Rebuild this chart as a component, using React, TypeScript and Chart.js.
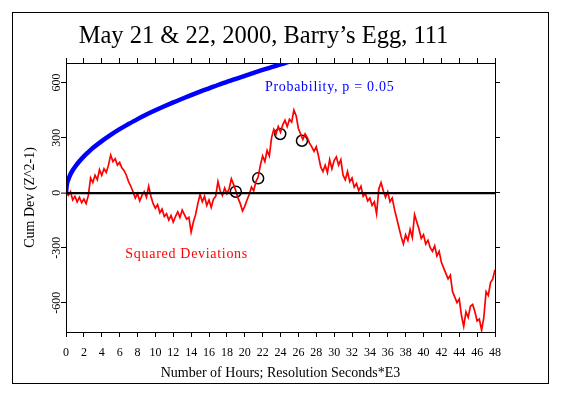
import React, { useEffect, useRef } from "react";
import { Chart, registerables } from "chart.js";

Chart.register(...registerables);

const TITLE = "May 21 & 22, 2000, Barry’s Egg, 111";
const X_TITLE = "Number of Hours; Resolution Seconds*E3";
const Y_TITLE = "Cum Dev (Z^2-1)";
const PROB_LABEL = "Probability, p = 0.05";
const DEV_LABEL = "Squared Deviations";

const X_TICKS = [0, 2, 4, 6, 8, 10, 12, 14, 16, 18, 20, 22, 24, 26, 28, 30, 32, 34, 36, 38, 40, 42, 44, 46, 48];
const Y_TICKS = [-600, -300, 0, 300, 600];
const X_MIN = 0;
const X_MAX = 48;
const Y_MIN = -760;
const Y_MAX = 707;

// cumulative deviation, one value every quarter hour (0 .. 48 h)
const SAMPLE_STEP_HOURS = 0.25;
const cumDev = [
  0, -15, 5, -40, -20, -50, -25, -55, -35, -60, -15, 80,
  55, 95, 70, 125, 95, 130, 110, 150, 205, 170, 185, 150,
  165, 135, 120, 95, 60, 35, 5, -30, -5, -45, -15, 5,
  -25, 35, -20, -60, -85, -65, -110, -90, -130, -115, -150, -125,
  -160, -130, -105, -135, -95, -120, -145, -135, -215, -160, -120, -60,
  -10, -50, -20, -70, -40, -80, -35, -20, 60, 10, -15, 25,
  -5, 20, 75, 45, 10, -30, -60, -100, -75, -40, -10, 30,
  10, 60, 85, 150, 200, 170, 230, 200, 300, 345, 320, 360,
  330, 370, 395, 360, 400, 385, 450, 420, 350, 320, 290, 320,
  300, 270, 250, 225, 250, 200, 140, 115, 150, 110, 180, 130,
  175, 195, 150, 180, 95, 70, 115, 60, 80, 30, 50, 10,
  35, -20, -5, -45, -30, -70, -50, -115, 20, 55, 10, -25,
  5, -50, -30, -90, -140, -190, -240, -280, -230, -260, -200, -245,
  -120, -160, -200, -250, -230, -280, -260, -300, -320, -290, -345, -320,
  -380, -410, -440, -470, -450, -540, -570, -600, -580, -670, -730, -650,
  -680, -620, -610, -650, -700, -690, -750, -680, -540, -560, -490, -470,
  -420,
];

// p = 0.05 envelope
const probHours = [0, 0.1, 0.25, 0.5, 0.75, 1, 1.5, 2, 2.5, 3, 4, 5, 6, 7, 8, 9, 10, 11, 12, 13, 14, 15, 16, 17, 18, 19, 20, 21, 22, 23, 24, 25, 26];
const probValues = [0, 45, 70, 100, 122, 140, 171, 198, 221, 243, 281, 315, 346, 374, 401, 426, 449, 471, 492, 512, 532, 551, 569, 587, 604, 621, 637, 653, 669, 684, 699, 714, 728];

// event markers (circles)
const eventHours = [19.0, 21.5, 23.97, 26.4];
const eventValues = [5, 78, 320, 283];

const SERIF = "'Liberation Serif', 'DejaVu Serif', serif";

const decorPlugin = {
  id: "decor",
  beforeDraw(chart: any) {
    const ctx = chart.ctx;
    ctx.save();
    ctx.fillStyle = "#ffffff";
    ctx.fillRect(0, 0, chart.width, chart.height);
    ctx.restore();
  },
  afterDraw(chart: any) {
    const ctx = chart.ctx;
    const x = chart.scales.x;
    const y = chart.scales.y;
    ctx.save();
    ctx.strokeStyle = "#000";
    ctx.lineWidth = 1;
    ctx.strokeRect(12.5, 12.5, 536, 371);
    ctx.fillStyle = "#000";
    ctx.font = `24.5px ${SERIF}`;
    ctx.textAlign = "center";
    ctx.textBaseline = "alphabetic";
    ctx.fillText(TITLE, 263.5, 42.5);
    ctx.font = `14px ${SERIF}`;
    ctx.textBaseline = "middle";
    try {
      (ctx as any).letterSpacing = "0.7px";
    } catch (e) {}
    ctx.fillStyle = "#0000ff";
    ctx.fillText(PROB_LABEL, x.getPixelForValue(29.5), y.getPixelForValue(572));
    ctx.fillStyle = "#ff0000";
    ctx.fillText(DEV_LABEL, x.getPixelForValue(13.5), y.getPixelForValue(-339));
    ctx.restore();
  },
};

export default function App() {
  const ref = useRef<HTMLCanvasElement>(null);
  useEffect(() => {
    const tickFont = { family: SERIF, size: 12 };
    const titleFont = { family: SERIF, size: 14 };
    const chart = new Chart(ref.current as HTMLCanvasElement, {
      type: "line",
      data: {
        datasets: [
          {
            label: "Squared Deviations",
            data: cumDev.map((v, i) => ({ x: i * SAMPLE_STEP_HOURS, y: v })),
            borderColor: "#ff0000",
            borderWidth: 1.7,
            pointRadius: 0,
            tension: 0,
            xAxisID: "x",
            yAxisID: "y",
          },
          {
            label: "Probability",
            data: probHours.map((h, i) => ({ x: h, y: probValues[i] })),
            borderColor: "#0000ff",
            borderWidth: 4.5,
            pointRadius: 0,
            cubicInterpolationMode: "monotone",
            xAxisID: "x",
            yAxisID: "y",
          },
          {
            label: "Events",
            data: eventHours.map((h, i) => ({ x: h, y: eventValues[i] })),
            showLine: false,
            pointRadius: 5.5,
            pointStyle: "circle",
            pointBorderColor: "#000",
            pointBackgroundColor: "rgba(0,0,0,0)",
            pointBorderWidth: 1.5,
            xAxisID: "x",
            yAxisID: "y",
          },
        ],
      } as any,
      options: {
        animation: false,
        responsive: false,
        devicePixelRatio: 1,
        layout: { padding: { top: 53, left: 0, right: 0, bottom: 0 } },
        plugins: {
          legend: { display: false },
          tooltip: { enabled: false },
          title: { display: false },
        },
        scales: {
          x: {
            type: "linear",
            position: "bottom",
            min: X_MIN,
            max: X_MAX,
            afterBuildTicks: (s: any) => {
              s.ticks = X_TICKS.map((v) => ({ value: v }));
            },
            afterFit: (s: any) => {
              s.height = 63;
            },
            ticks: { autoSkip: false, maxRotation: 0, minRotation: 0, font: tickFont, color: "#000", padding: 9 },
            grid: { drawOnChartArea: false, tickLength: 5, tickColor: "#000", color: "#000" },
            border: { display: true, color: "#000", width: 1 },
            title: { display: true, text: X_TITLE, color: "#000", font: titleFont, padding: { top: 0, bottom: 13 } },
          },
          x2: {
            type: "linear",
            position: "top",
            min: X_MIN,
            max: X_MAX,
            afterBuildTicks: (s: any) => {
              s.ticks = X_TICKS.map((v) => ({ value: v }));
            },
            afterFit: (s: any) => {
              s.height = 10;
            },
            ticks: { display: false },
            grid: { drawOnChartArea: false, tickLength: 5, tickColor: "#000", color: "#000" },
            border: { display: true, color: "#000", width: 1 },
          },
          y: {
            type: "linear",
            position: "left",
            min: Y_MIN,
            max: Y_MAX,
            afterBuildTicks: (s: any) => {
              s.ticks = Y_TICKS.map((v) => ({ value: v }));
            },
            afterFit: (s: any) => {
              s.width = 66;
            },
            ticks: { minRotation: 90, maxRotation: 90, crossAlign: "center", padding: -7, font: tickFont, color: "#000" },
            grid: {
              z: 1,
              drawOnChartArea: true,
              color: (c: any) => (c.tick && c.tick.value === 0 ? "#000" : "rgba(0,0,0,0)"),
              lineWidth: (c: any) => (c.tick && c.tick.value === 0 ? 2.2 : 1),
              tickColor: "#000",
              tickWidth: 1,
              tickLength: 5,
            },
            border: { display: true, color: "#000", width: 1, z: 2 },
            title: { display: true, text: Y_TITLE, color: "#000", font: titleFont, padding: { top: 22, bottom: 0 } },
          },
          y2: {
            type: "linear",
            position: "right",
            min: Y_MIN,
            max: Y_MAX,
            afterBuildTicks: (s: any) => {
              s.ticks = Y_TICKS.map((v) => ({ value: v }));
            },
            afterFit: (s: any) => {
              s.width = 66;
            },
            ticks: { display: false },
            grid: { drawOnChartArea: false, tickLength: 5, tickColor: "#000", color: "#000" },
            border: { display: true, color: "#000", width: 1 },
          },
        },
      } as any,
      plugins: [decorPlugin],
    });
    return () => chart.destroy();
  }, []);
  return (
    <div style={{ position: "absolute", left: 0, top: 0, width: 561, height: 395 }}>
      <canvas ref={ref} width={561} height={395} style={{ display: "block", width: 561, height: 395 }} />
    </div>
  );
}
